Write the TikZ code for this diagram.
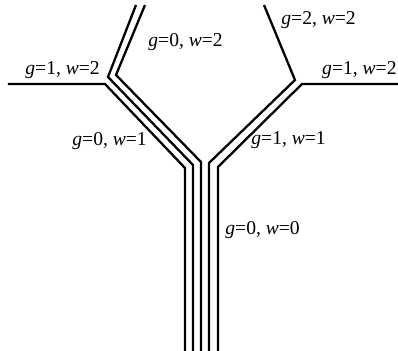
\documentclass[tikz,border=0pt]{standalone}
\usepackage{fontspec}
\setmainfont{Liberation Serif}
\tikzset{
  wire/.style={line width=1.15pt, line join=miter, line cap=butt},
  lbl/.style={anchor=base west, inner sep=0pt, font=\fontsize{9.8}{12}\selectfont}
}
\newcommand{\gwlabel}[2]{\textit{g}=#1, \textit{w}=#2}

\begin{document}
\begin{tikzpicture}[x=0.5pt, y=-0.5pt]
  \useasboundingbox (0,0) rectangle (398,351);

  % left branch: three strands
  \coordinate (ljoin) at (105,84);
  \coordinate (lbend1) at (185,168);
  \coordinate (ltopa) at (108,77);
  \coordinate (lbend2) at (193,165);
  \coordinate (ltopb) at (116,75);
  \coordinate (lbend3) at (201,162);
  \draw[wire] (8,84) -- (ljoin) -- (lbend1) -- (185,351);
  \draw[wire] (136,5) -- (ltopa) -- (lbend2) -- (193,351);
  \draw[wire] (145,5) -- (ltopb) -- (lbend3) -- (201,351);

  % right branch: two strands
  \coordinate (rtop) at (295,80);
  \coordinate (rbend1) at (209,163);
  \coordinate (rjoin) at (302,84);
  \coordinate (rbend2) at (218,167);
  \draw[wire] (264,5) -- (rtop) -- (rbend1) -- (209,351);
  \draw[wire] (398,84) -- (rjoin) -- (rbend2) -- (218,351);

  % labels
  \node[lbl] (lhoriz) at (25,75) {\gwlabel{1}{2}};
  \node[lbl] (ltop) at (148,47) {\gwlabel{0}{2}};
  \node[lbl] (ldiag) at (72,146) {\gwlabel{0}{1}};
  \node[lbl] (rtoplbl) at (281,25) {\gwlabel{2}{2}};
  \node[lbl, anchor=base east] (rhoriz) at (397,75) {\gwlabel{1}{2}};
  \node[lbl] (rdiag) at (251,145) {\gwlabel{1}{1}};
  \node[lbl] (trunk) at (225,235) {\gwlabel{0}{0}};
\end{tikzpicture}
\end{document}
